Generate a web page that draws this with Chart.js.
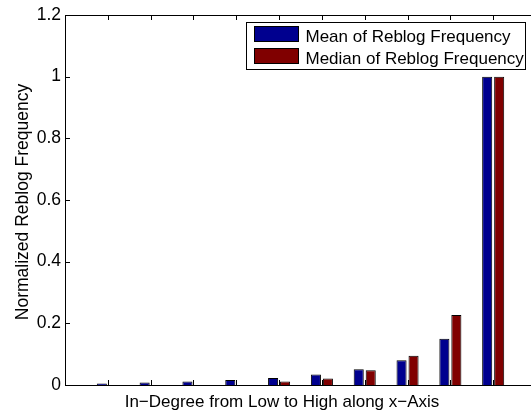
<!DOCTYPE html>
<html lang="en">
<head>
  <meta charset="UTF-8" />
  <title>Normalized Reblog Frequency</title>
  <script src="https://cdn.jsdelivr.net/npm/chart.js"></script>
  <style>
    html, body { margin: 0; padding: 0; background: #fff; overflow: hidden; }
    #wrap { width: 540px; height: 410px; position: relative; }
  </style>
</head>
<body>
  <div id="wrap"><canvas id="reblogChart"></canvas></div>

  <script>
    // categories: in-degree groups, low to high
    const groups = [1, 2, 3, 4, 5, 6, 7, 8, 9, 10];
    const meanFreq = [0.005, 0.008, 0.011, 0.016, 0.023, 0.034, 0.051, 0.080, 0.150, 1.0];
    const medianFreq = [0, 0, 0, 0, 0.011, 0.021, 0.048, 0.095, 0.227, 1.0];
    const yTicks = [0, 0.2, 0.4, 0.6, 0.8, 1, 1.2];
    const xTitle = 'In\u2212Degree from Low to High along x\u2212Axis';
    const yTitle = 'Normalized Reblog Frequency';

    const FONT = "'Liberation Sans', Arial, Helvetica, sans-serif";

    const toPoints = vals => groups.map((g, i) => ({ x: g, y: vals[i] }));

    // matlab-ish axes box, inward ticks, axis labels and the boxed legend
    const matlabAxes = {
      id: 'matlabAxes',
      afterDatasetsDraw(chart) {
        const { ctx, chartArea: a, scales: { x, y } } = chart;
        ctx.save();
        ctx.strokeStyle = '#000';
        ctx.lineWidth = 1;
        ctx.strokeRect(Math.round(a.left) + 0.5, Math.round(a.top) + 0.5, Math.round(a.right - a.left), Math.round(a.bottom - a.top));
        ctx.beginPath();
        groups.forEach(g => {
          const px = Math.round(x.getPixelForValue(g)) + 0.5;
          ctx.moveTo(px, a.bottom); ctx.lineTo(px, a.bottom - 5);
          ctx.moveTo(px, a.top); ctx.lineTo(px, a.top + 5);
        });
        yTicks.forEach(t => {
          const py = Math.round(y.getPixelForValue(t)) + 0.5;
          ctx.moveTo(a.left, py); ctx.lineTo(a.left + 5, py);
          ctx.moveTo(a.right, py); ctx.lineTo(a.right - 5, py);
        });
        ctx.stroke();

        // axis titles
        ctx.fillStyle = '#000';
        ctx.font = '17px ' + FONT;
        ctx.textAlign = 'center';
        ctx.textBaseline = 'alphabetic';
        ctx.fillText(xTitle, 282, 406.5);
        ctx.translate(27.5, 202);
        ctx.rotate(-Math.PI / 2);
        ctx.font = '17.5px ' + FONT;
        ctx.fillText(yTitle, 0, 0);
        ctx.restore();
      },
      afterDraw(chart) {
        const { ctx, chartArea: a } = chart;
        const boxL = Math.round(a.left + 181) + 0.5, boxT = Math.round(a.top + 7) + 0.5;
        const boxW = 279, boxH = 47;
        ctx.save();
        ctx.fillStyle = '#fff';
        ctx.fillRect(boxL, boxT, boxW, boxH);
        ctx.strokeStyle = '#000';
        ctx.lineWidth = 1;
        ctx.strokeRect(boxL, boxT, boxW, boxH);
        ctx.font = '17px ' + FONT;
        ctx.textBaseline = 'alphabetic';
        chart.data.datasets.forEach((ds, i) => {
          const top = boxT + 4 + i * 22;
          ctx.fillStyle = ds.backgroundColor;
          ctx.fillRect(boxL + 8, top, 44, 15);
          ctx.strokeRect(boxL + 8, top, 44, 15);
          ctx.fillStyle = '#000';
          ctx.fillText(ds.label, boxL + 59, boxT + 19.5 + i * 22);
        });
        ctx.restore();
      }
    };

    new Chart(document.getElementById('reblogChart'), {
      type: 'bar',
      data: {
        datasets: [
          { label: 'Mean of Reblog Frequency', data: toPoints(meanFreq), backgroundColor: '#00008f', borderColor: '#000', borderWidth: 1 },
          { label: 'Median of Reblog Frequency', data: toPoints(medianFreq), backgroundColor: '#800000', borderColor: '#000', borderWidth: 1 }
        ]
      },
      options: {
        responsive: true,
        maintainAspectRatio: false,
        animation: false,
        categoryPercentage: 0.56,
        barPercentage: 0.84,
        layout: { padding: { top: 15, right: 4, left: 0, bottom: 0 } },
        plugins: { legend: { display: false }, tooltip: { enabled: false } },
        scales: {
          x: {
            type: 'linear',
            min: 0,
            max: 11,
            offset: false,
            grid: { display: false, drawTicks: false },
            border: { display: false },
            ticks: { display: false },
            afterFit(scale) { scale.height = 25; }
          },
          y: {
            min: 0,
            max: 1.2,
            grid: { display: false, drawTicks: false },
            border: { display: false },
            afterBuildTicks(scale) { scale.ticks = yTicks.map(v => ({ value: v })); },
            ticks: {
              color: '#000',
              padding: 4,
              font: { family: FONT, size: 17.5 },
              callback: v => String(v)
            },
            afterFit(scale) { scale.width = 65; }
          }
        }
      },
      plugins: [matlabAxes]
    });
  </script>
</body>
</html>
